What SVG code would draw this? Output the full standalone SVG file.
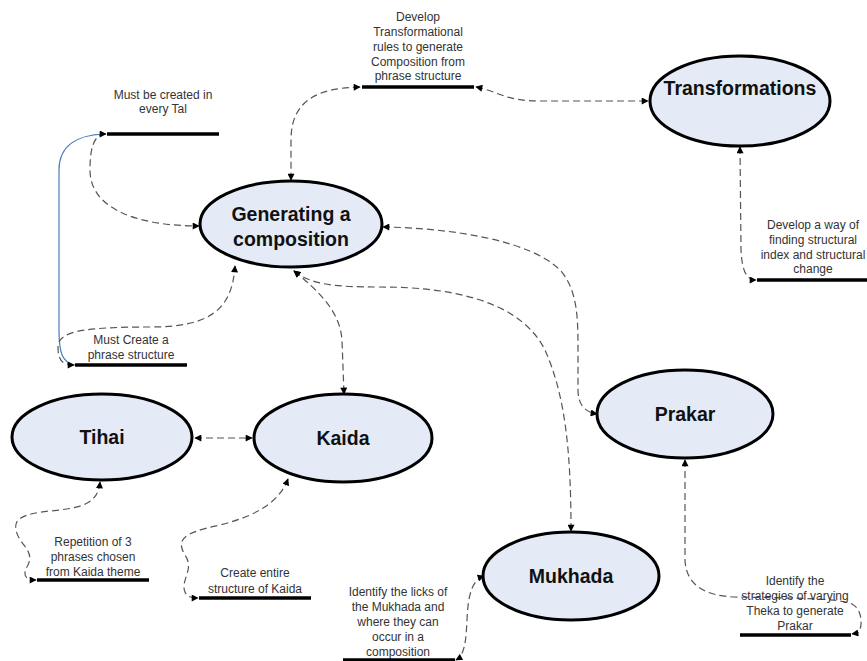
<svg xmlns="http://www.w3.org/2000/svg" width="867" height="661" viewBox="0 0 867 661">
<defs>
<marker id="ah" viewBox="0 0 10 10" refX="9" refY="5" markerWidth="8" markerHeight="7" markerUnits="userSpaceOnUse" orient="auto-start-reverse">
<path d="M0,0 L10,5 L0,10 z" fill="#000"/>
</marker>
<style>
.node ellipse{fill:#e4ebf7;stroke:#000;stroke-width:3}
.node text{font-family:"Liberation Sans",Arial,sans-serif;font-weight:bold;font-size:19.5px;fill:#111;text-anchor:middle}
.lbl text{font-family:"Liberation Sans",Arial,sans-serif;font-size:12px;fill:#333;text-anchor:middle}
.bar{stroke:#000;stroke-width:3.5}
.con{fill:none;stroke:#555;stroke-width:1.2;stroke-dasharray:7,4;marker-start:url(#ah);marker-end:url(#ah)}
.blue{fill:none;stroke:#4a7cc0;stroke-width:1.2}
</style>
</defs>
<rect width="867" height="661" fill="#fff"/>

<g id="connectors">
<path class="blue" d="M75,365 C62,363 59,352 59,330 L59,170 C59,145 78,135 104,134"/>
<path class="con" d="M360,87 C318,88 291,100 291,140 L291,180"/>
<path class="con" d="M476,87 C500,92 505,101 540,101 L648,101"/>
<path class="con" d="M106,134 C93,134 90,150 90,170 C90,210 140,226 199,226"/>
<path class="con" d="M74,365 C62,365 58,360 58,347 C58,332 80,327 150,327 C210,327 232,310 235,266"/>
<path class="con" d="M383,227 C450,228 530,240 560,270 C578,290 578,320 578,350 L578,390 C578,405 585,412 597,414"/>
<path class="con" d="M294,271 C312,285 335,287 380,287 C450,287 520,300 545,350 C565,395 571,450 571,531"/>
<path class="con" d="M294,271 C320,292 340,312 342,340 L344,394"/>
<path class="con" d="M740,147 L741,250 C742,270 746,280 756,280"/>
<path class="con" d="M195,438 L252,438"/>
<path class="con" d="M100,482 C98,505 80,508 50,511 C20,514 14,520 16,530 C19,545 35,550 28,565 C22,575 25,580 36,580"/>
<path class="con" d="M288,479 C280,500 260,515 220,525 C182,533 176,540 185,555 C195,570 180,580 185,592 C187,597 192,598 198,598"/>
<path class="con" d="M484,576 C472,580 468,595 467,620 C466,640 465,655 456,660"/>
<path class="con" d="M685,460 L685,560 C686,585 705,596 735,597 C790,598 840,598 852,604 C864,610 862,630 858,633 L852,634"/>
</g>

<g id="n-generating" class="node">
<ellipse cx="291" cy="224" rx="91" ry="43"/>
<text x="291" y="221">Generating a</text>
<text x="291" y="246">composition</text>
</g>
<g id="n-transformations" class="node">
<ellipse cx="740" cy="101" rx="90" ry="45"/>
<text x="740" y="95">Transformations</text>
</g>
<g id="n-tihai" class="node">
<ellipse cx="102" cy="437" rx="90" ry="43"/>
<text x="102" y="444">Tihai</text>
</g>
<g id="n-kaida" class="node">
<ellipse cx="343" cy="438" rx="89" ry="44"/>
<text x="343" y="445">Kaida</text>
</g>
<g id="n-prakar" class="node">
<ellipse cx="685" cy="414" rx="88" ry="44"/>
<text x="685" y="421">Prakar</text>
</g>
<g id="n-mukhada" class="node">
<ellipse cx="571" cy="576" rx="88" ry="44"/>
<text x="571" y="583">Mukhada</text>
</g>

<g id="l-develop" class="lbl">
<text x="418" y="21">Develop</text>
<text x="418" y="36">Transformational</text>
<text x="418" y="51">rules to generate</text>
<text x="418" y="66">Composition from</text>
<text x="418" y="80">phrase structure</text>
<line class="bar" x1="362" y1="87" x2="474" y2="87"/>
</g>
<g id="l-tal" class="lbl">
<text x="163" y="99">Must be created in</text>
<text x="163" y="113">every Tal</text>
<line class="bar" x1="107" y1="134" x2="219" y2="134"/>
</g>
<g id="l-phrase" class="lbl">
<text x="131" y="344">Must Create a</text>
<text x="131" y="359">phrase structure</text>
<line class="bar" x1="75" y1="365" x2="187" y2="365"/>
</g>
<g id="l-index" class="lbl">
<text x="813" y="229">Develop a way of</text>
<text x="813" y="244">finding structural</text>
<text x="813" y="259">index and structural</text>
<text x="813" y="273">change</text>
<line class="bar" x1="757" y1="280" x2="867" y2="280"/>
</g>
<g id="l-repetition" class="lbl">
<text x="93" y="546">Repetition of 3</text>
<text x="93" y="561">phrases chosen</text>
<text x="93" y="576">from Kaida theme</text>
<line class="bar" x1="37" y1="580" x2="149" y2="580"/>
</g>
<g id="l-entire" class="lbl">
<text x="255" y="577">Create entire</text>
<text x="255" y="593">structure of Kaida</text>
<line class="bar" x1="199" y1="598" x2="311" y2="598"/>
</g>
<g id="l-licks" class="lbl">
<text x="398" y="596">Identify the licks of</text>
<text x="398" y="611">the Mukhada and</text>
<text x="398" y="626">where they can</text>
<text x="398" y="641">occur in a</text>
<text x="398" y="656">composition</text>
<line class="bar" x1="343" y1="660" x2="455" y2="660"/>
</g>
<g id="l-strategies" class="lbl">
<text x="795" y="585">Identify the</text>
<text x="795" y="600">strategies of varying</text>
<text x="795" y="615">Theka to generate</text>
<text x="795" y="630">Prakar</text>
<line class="bar" x1="740" y1="635" x2="851" y2="635"/>
</g>
</svg>
